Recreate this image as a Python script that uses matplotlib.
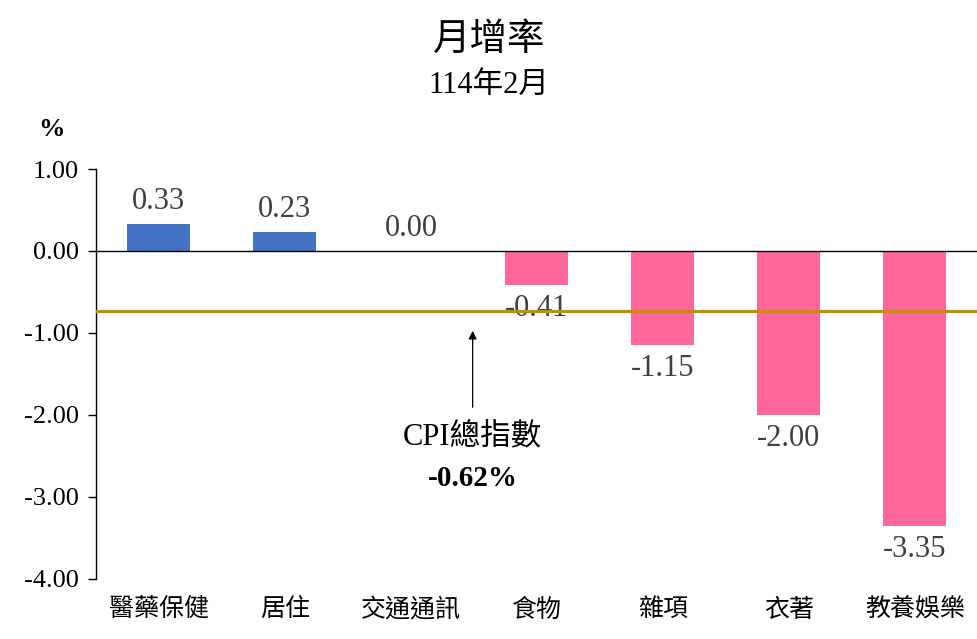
import matplotlib
matplotlib.use("Agg")
import matplotlib.pyplot as plt

# data
categories = ["醫藥保健", "居住", "交通通訊", "食物", "雜項", "衣著", "教養娛樂"]
values = [0.33, 0.23, 0.00, -0.41, -1.15, -2.00, -3.35]
cpi_label = "-0.62%"
cpi_line_y = -0.73  # where the gold line sits in the picture
yticks = [1.0, 0.0, -1.0, -2.0, -3.0, -4.0]

plt.rcParams["font.family"] = ["Liberation Serif", "Noto Sans CJK TC", "DejaVu Sans"]

fig = plt.figure(figsize=(9.78, 6.39), dpi=100)
ax = fig.add_axes([0.098, 0.094, 0.902, 0.6415])

x = list(range(len(categories)))
colors = ["#4472C4" if v > 0 else "#FF6699" for v in values]
ax.bar(x, values, width=0.5, color=colors, zorder=2)

for xi, v in zip(x, values):
    off = 16 if v >= 0 else -17
    ax.annotate(f"{v:.2f}", (xi, v), xytext=(0, off), textcoords="offset points",
                ha="center", va="center", fontsize=22, color="#404040")

ax.axhline(0, color="black", lw=1, zorder=3)
ax.axhline(cpi_line_y, color="#BF9000", lw=2.3, zorder=3)

ax.annotate("", xy=(2.49, -0.94), xytext=(2.49, -1.94),
            arrowprops=dict(arrowstyle="-|>", color="black", lw=0.9, mutation_scale=12))
ax.text(2.49, -2.27, "CPI總指數", ha="center", va="center", fontsize=22)
ax.text(2.49, -2.77, cpi_label, ha="center", va="center", fontsize=21, fontweight="bold")

ax.set_xlim(-0.5, len(categories) - 0.5)
ax.set_ylim(-4, 1)
ax.set_yticks(yticks)
ax.set_yticklabels([f"{t:.2f}" for t in yticks], fontsize=19)
ax.set_xticks(x)
ax.set_xticklabels(categories, fontsize=18)
ax.tick_params(axis="x", length=0, pad=14)
ax.tick_params(axis="y", direction="out", length=6, width=1, pad=6)

for side in ["top", "right", "bottom"]:
    ax.spines[side].set_visible(False)
ax.spines["left"].set_linewidth(1)

fig.text(0.5, 0.937, "月增率", ha="center", va="center", fontsize=27)
fig.text(0.5, 0.867, "114年2月", ha="center", va="center", fontsize=22)
fig.text(0.053, 0.797, "%", ha="center", va="center", fontsize=19, fontweight="bold")

fig.savefig("out.png", dpi=100)
